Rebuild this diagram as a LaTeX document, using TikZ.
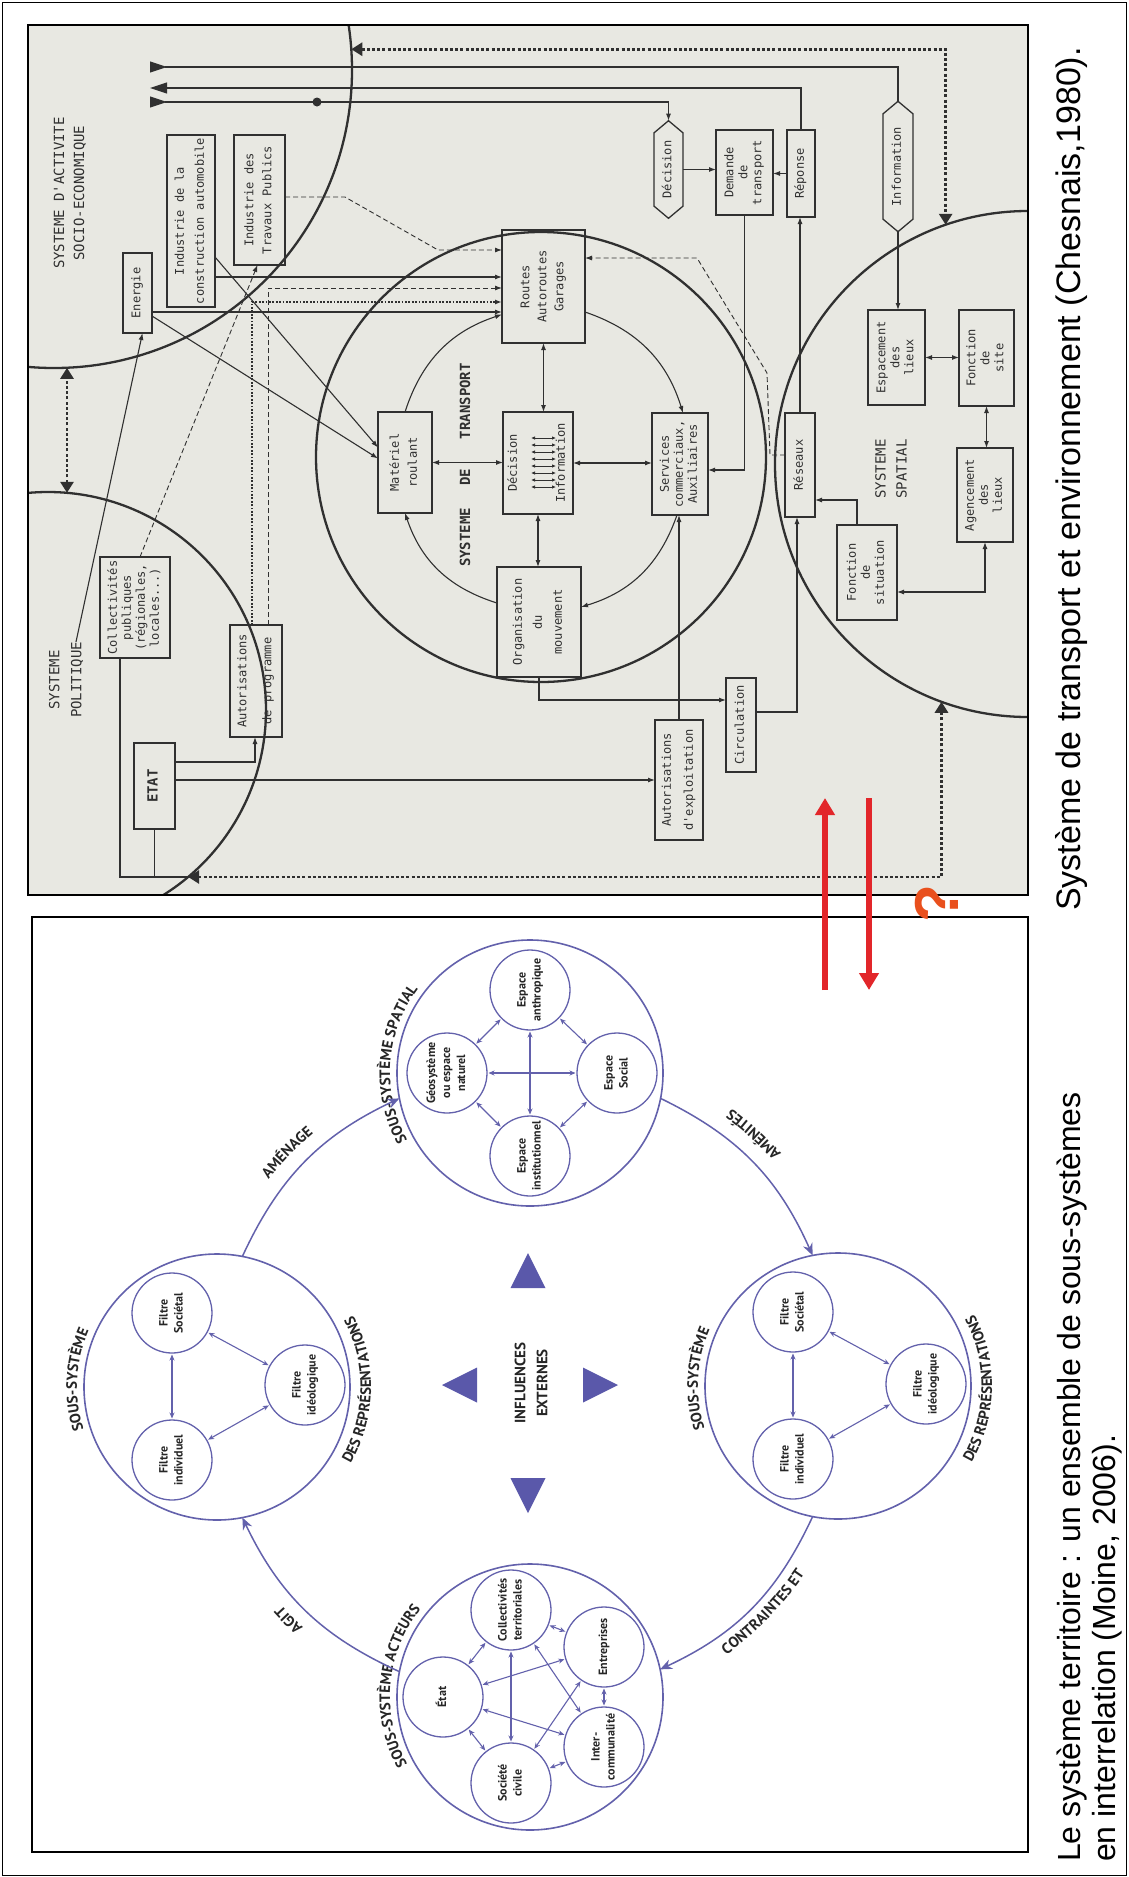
\documentclass[tikz,border=0pt]{standalone}
\usepackage{fontspec}
\setmainfont{Liberation Sans}
\newfontfamily\typefont{DejaVu Sans Mono}
\newfontfamily\moinefont{PT Sans}
\usepackage{graphicx}
\usetikzlibrary{arrows.meta,positioning,calc,decorations.text,shapes.symbols}
\definecolor{paper}{HTML}{E8E8E2}
\definecolor{ink}{HTML}{303030}
\definecolor{moineline}{HTML}{6361AC}
\definecolor{moinefill}{HTML}{5A58AA}
\definecolor{moineink}{HTML}{262626}
\definecolor{alertred}{HTML}{E2262A}
\definecolor{qorange}{HTML}{E9501D}
\newcommand{\up}[1]{\rotatebox{90}{\begin{tabular}{@{}c@{}}#1\end{tabular}}}
\newcommand{\moinecaps}{\moinefont\bfseries\fontsize{15}{18}\selectfont\color{moineink}}

\begin{document}
\begin{tikzpicture}[x=1pt,y=1pt,
 cbox/.style={draw=ink,line width=1.3pt,inner sep=0pt,outer sep=0pt,text=ink,font=\typefont\fontsize{12}{14}\selectfont},
 chex/.style={cbox,signal,signal to=north and south,signal pointer angle=100},
 clabel/.style={text=ink,inner sep=0pt,font=\typefont\fontsize{14}{20}\selectfont},
 bigring/.style={draw=ink,line width=2.3pt,circle,inner sep=0pt,outer sep=0pt},
 fl/.style={draw=ink,line width=1.1pt},
 dashlink/.style={fl,line width=0.9pt,dash pattern=on 5pt off 3pt},
 dotlink/.style={fl,line width=1.5pt,dash pattern=on 1.8pt off 1.6pt},
 dotflow/.style={draw=ink,line width=2.8pt,dash pattern=on 3pt off 2.2pt,{Triangle[length=11pt,width=13pt]}-{Triangle[length=11pt,width=13pt]}},
 subsys/.style={circle,draw=moineline,line width=1.6pt,minimum size=266pt,inner sep=0pt,outer sep=0pt},
 innerc/.style={circle,draw=moineline,line width=1.3pt,minimum size=80pt,inner sep=0pt,outer sep=1.5pt,text=moineink,font=\moinefont\bfseries\fontsize{12}{15}\selectfont},
 mlink/.style={draw=moineline,line width=1.1pt,{Stealth[length=6pt,width=5pt]}-{Stealth[length=6pt,width=5pt]}},
 ringlink/.style={draw=moineline,line width=1.5pt,-{Stealth[length=12pt,width=10pt]}},
 redlink/.style={draw=alertred,line width=5.5pt,-{Triangle[length=17pt,width=19pt]}},
 >={Latex[length=7pt,width=5pt]}]
\useasboundingbox (0,0) rectangle (1128,-1877);
\draw[line width=1pt] (2,-2) rectangle (1126,-1875);
\fill[paper] (28,-25) rectangle (1028,-895);
\begin{scope}
\clip (28,-25) rectangle (1028,-895);
\node[bigring,minimum size=596pt] (socio) at (54,-70) {};
\node[bigring,minimum size=436pt] (politique) at (48,-710) {};
\node[bigring,minimum size=450pt] (transport) at (541,-457) {};
\node[bigring,minimum size=506pt] (spatial) at (1028,-464) {};
\end{scope}
\draw[line width=1.5pt] (28,-25) rectangle (1028,-895);

\node[clabel] (socioname) at (70,-193) {\up{SYSTEME D'ACTIVITE\\SOCIO-ECONOMIQUE}};
\node[clabel,font=\typefont\fontsize{14}{22}\selectfont] (polname) at (66,-680) {\up{SYSTEME\\POLITIQUE}};
\node[clabel,font=\typefont\bfseries\fontsize{14}{16}\selectfont] (transname) at (467,-465) {\up{SYSTEME\hspace{22pt}DE\hspace{30pt}TRANSPORT}};
\node[clabel,font=\typefont\fontsize{14}{21}\selectfont] (spatname) at (892,-469) {\up{SYSTEME\\SPATIAL}};

\node[cbox,minimum width=29pt,minimum height=80pt] (energie) at (137.5,-293) {\up{Energie}};
\node[cbox,minimum width=48pt,minimum height=172pt] (indauto) at (191,-221) {\up{Industrie de la\\[6pt]construction automobile}};
\node[cbox,minimum width=51pt,minimum height=130pt] (indtp) at (259.5,-200) {\up{Industrie des\\[4pt]Travaux Publics}};
\node[cbox,minimum width=83pt,minimum height=113pt] (routes) at (543.5,-286.5) {\up{Routes\\[3pt]Autoroutes\\[3pt]Garages}};
\node[cbox,minimum width=54pt,minimum height=101pt] (materiel) at (405,-462.5) {\up{Matériel\\[4pt]roulant}};
\node[cbox,minimum width=70pt,minimum height=102pt] (decinfo) at (538,-463) {\up{Décision\\[34pt]Information}};
\node[cbox,minimum width=56pt,minimum height=102pt] (services) at (680,-464) {\up{Services\\commerciaux,\\Auxiliaires}};
\node[cbox,minimum width=84pt,minimum height=110pt] (organisation) at (539,-622) {\up{Organisation\\[6pt]du\\[6pt]mouvement}};
\node[cbox,minimum width=70pt,minimum height=101pt] (collect) at (135,-607.5) {\up{Collectivités\\publiques\\(régionales,\\locales...)}};
\node[cbox,minimum width=52pt,minimum height=112pt] (autoprog) at (256,-681) {\up{Autorisations\\[11pt]de programme}};
\node[cbox,minimum width=41pt,minimum height=86pt,font=\typefont\bfseries\fontsize{14}{16}\selectfont] (etat) at (154.5,-786) {\up{ETAT}};
\node[cbox,minimum width=48pt,minimum height=120pt] (autoexpl) at (679,-780) {\up{Autorisations\\[8pt]d'exploitation}};
\node[cbox,minimum width=30pt,minimum height=94pt] (circulation) at (741,-725) {\up{Circulation}};
\node[chex,minimum width=29pt,minimum height=85pt] (decision) at (668.5,-169.5) {\up{Décision}};
\node[cbox,minimum width=57pt,minimum height=85pt] (demande) at (744.5,-172.5) {\up{Demande\\de\\transport}};
\node[cbox,minimum width=28pt,minimum height=87pt] (reponse) at (801,-173.5) {\up{Réponse}};
\node[chex,minimum width=30pt,minimum height=117pt] (information) at (898,-166.5) {\up{Information}};
\node[cbox,minimum width=30pt,minimum height=104pt] (reseaux) at (800,-465) {\up{Réseaux}};
\node[cbox,minimum width=57pt,minimum height=95pt] (espacement) at (896.5,-357.5) {\up{Espacement\\des\\lieux}};
\node[cbox,minimum width=55pt,minimum height=96pt] (fsite) at (986.5,-358) {\up{Fonction\\de\\site}};
\node[cbox,minimum width=56pt,minimum height=94pt] (agencement) at (985,-495) {\up{Agencement\\des\\lieux}};
\node[cbox,minimum width=60pt,minimum height=95pt] (fsituation) at (867,-572.5) {\up{Fonction\\de\\situation}};

\foreach \k in {0,...,7}
 \draw[fl,line width=0.8pt,{Latex[length=4pt,width=3.5pt]}-{Latex[length=4pt,width=3.5pt]}] ([shift={(-7,25-7*\k)}]decinfo.center) -- ++(25,0);

\coordinate (socA) at (150,-67);
\coordinate (socB) at (150,-88);
\coordinate (socC) at (150,-102);
\draw[fl,-{Triangle[length=17pt,width=11pt,reversed]}] (information.north) |- (socA);
\draw[fl,-{Triangle[length=17pt,width=11pt]}] (reponse.north) |- (socB);
\draw[fl,{Triangle[length=17pt,width=11pt,reversed]}->] (socC) -| (decision.north);
\fill[ink] (317,-102) circle (4.5);
\draw[dotflow] (socio.4) -| (spatial.109);
\draw[dotflow] (politique.85) -- (politique.85 |- socio.-88);
\draw[dotflow] (politique.-50) -| (spatial.-110);
\draw[fl] ([xshift=-15pt]collect.south) |- (politique.-50);
\draw[fl] (etat.south) -- (etat.south |- politique.-50);
\draw[fl,->] ([xshift=10pt]polname.north) -- ([xshift=5pt]energie.south);
\draw[fl,->] ([yshift=-23pt]energie.east) -- ([yshift=4pt]materiel.west);
\draw[fl,->] ([yshift=-19pt]energie.east) -- ([yshift=-25.5pt]routes.west);
\draw[fl,->] ([yshift=-36pt]indauto.east) -- ([yshift=15pt]materiel.west);
\draw[fl,->] ([yshift=-56pt]indauto.east) -- ([yshift=9.5pt]routes.west);
\draw[dashlink,->] ([yshift=3pt]indtp.east) -- ++(60,0) -- ++(93,-53) -- ([yshift=36.5pt]routes.west);
\draw[dashlink,->] ([xshift=5pt]collect.north) -- ([xshift=-2pt]indtp.south);
\draw[dotlink,->] ([xshift=-4pt]autoprog.north) |- ([yshift=-15.5pt]routes.west);
\draw[dashlink,->] ([xshift=12pt]autoprog.north) |- ([yshift=-1.5pt]routes.west);
\draw[fl,->] ([yshift=24pt]etat.east) -| ([xshift=-1pt]autoprog.south);
\draw[fl,->] (etat.east |- autoexpl.west) -- (autoexpl.west);
\draw[fl,->] (autoexpl.north) -- (autoexpl.north |- services.south);
\draw[fl,->] (organisation.south) |- ([yshift=25pt]circulation.west);
\draw[fl,->] ([yshift=13pt]circulation.east) -| ([xshift=-3pt]reseaux.south);
\draw[fl,->] (reseaux.north) -- (reseaux.north |- reponse.south);
\draw[fl,->] (demande.south) |- ([yshift=-6pt]services.east);
\draw[fl,->] (decision.east) -- (decision.east -| demande.west);
\draw[fl,->] (reponse.west) -- (reponse.west -| demande.east);
\draw[fl,->] (information.south) -- (information.south |- espacement.north);
\draw[fl,<->] (espacement.east) -- (espacement.east -| fsite.west);
\draw[fl,<->] (fsite.south) -- (fsite.south |- agencement.north);
\draw[fl,<->] (agencement.south) |- ([yshift=-19.5pt]fsituation.east);
\draw[fl,->] ([xshift=-10pt]fsituation.north) |- ([yshift=-35pt]reseaux.east);
\draw[fl,<->] (materiel.east) -- (materiel.east -| decinfo.west);
\draw[fl,<->] (routes.south) -- (routes.south |- decinfo.north);
\draw[fl,<->] (decinfo.east) -- (decinfo.east -| services.west);
\draw[fl,<->] (decinfo.south) -- (decinfo.south |- organisation.north);
\draw[fl,->] ([yshift=19pt]organisation.west) to[bend left=27] (materiel.south);
\draw[fl,->] (materiel.north) to[bend left=27] ([yshift=-28pt]routes.west);
\draw[fl,->] ([yshift=-25.5pt]routes.east) to[bend left=27] ([xshift=3pt]services.north);
\draw[fl,->] ([xshift=-3pt]services.south) to[bend left=27] ([yshift=15pt]organisation.east);
\draw[dashlink,->] ([yshift=10pt]reseaux.west) -- ++(-15,0) -- ++(-3,82) -- ++(-70,115) -- ([yshift=28.5pt]routes.east);

\draw[line width=1.8pt,fill=white] (32,-917) rectangle (1028,-1852);
\begin{scope}[shift={(528,-1385)}]
\node[subsys] (spat) at (2,312) {};
\node[subsys] (rep2) at (310,-1) {};
\node[subsys] (act) at (2,-312) {};
\node[subsys] (rep1) at (-311,-2) {};
\node[innerc] (geo) at ([shift={(-83,0)}]spat.center) {\up{Géosystème\\ou espace\\naturel}};
\node[innerc] (anthro) at ([shift={(0,83)}]spat.center) {\up{Espace\\anthropique}};
\node[innerc] (social) at ([shift={(87,0)}]spat.center) {\up{Espace\\Social}};
\node[innerc] (inst) at ([shift={(0,-83)}]spat.center) {\up{Espace\\institutionnel}};
\foreach \a/\b in {geo/anthro,anthro/social,social/inst,inst/geo,geo/social,anthro/inst}
 \draw[mlink] (\a) -- (\b);
\node[innerc] (acteta) at ([shift={(-87,0)}]act.center) {\up{État}};
\node[innerc] (actcoll) at ([shift={(-19,87)}]act.center) {\up{Collectivités\\territoriales}};
\node[innerc] (actsoc) at ([shift={(-19,-86)}]act.center) {\up{Société\\civile}};
\node[innerc] (actent) at ([shift={(74,50)}]act.center) {\up{Entreprises}};
\node[innerc] (actinter) at ([shift={(74,-50)}]act.center) {\up{Inter-\\communalité}};
\foreach \a/\b in {acteta/actcoll,acteta/actsoc,acteta/actent,acteta/actinter,actcoll/actsoc,actcoll/actent,actcoll/actinter,actsoc/actent,actsoc/actinter,actent/actinter}
 \draw[mlink] (\a) -- (\b);
\foreach \r in {rep1,rep2} {
 \node[innerc] (\r-soc) at ([shift={(-45,74)}]\r.center) {\up{Filtre\\Sociétal}};
 \node[innerc] (\r-ind) at ([shift={(-45,-73)}]\r.center) {\up{Filtre\\individuel}};
 \node[innerc] (\r-ideo) at ([shift={(88,2)}]\r.center) {\up{Filtre\\idéologique}};
 \draw[mlink] (\r-soc) -- (\r-ind);
 \draw[mlink] (\r-soc) -- (\r-ideo);
 \draw[mlink] (\r-ind) -- (\r-ideo);
 \path[decorate,decoration={text along path,text={|\moinecaps|SOUS-SYSTÈME},text align=center}] ([shift={(237:140)}]\r.center) arc[start angle=237,end angle=117,radius=140];
 \path[decorate,decoration={text along path,text={|\moinecaps|DES REPRÉSENTATIONS},text align=center}] ([shift={(-65:154)}]\r.center) arc[start angle=-65,end angle=63,radius=154];
}
\path[decorate,decoration={text along path,text={|\moinecaps|SOUS-SYSTÈME SPATIAL},text align=center}] ([shift={(240:140)}]spat.center) arc[start angle=240,end angle=112,radius=140];
\path[decorate,decoration={text along path,text={|\moinecaps|SOUS-SYSTÈME ACTEURS},text align=center}] ([shift={(239:140)}]act.center) arc[start angle=239,end angle=111,radius=140];
\foreach \a/\d in {180/86,90/132,0/90,270/128}
 \fill[moinefill,rotate=\a] (\d,0) -- (\d-35,17.5) -- (\d-35,-17.5) -- cycle;
\node[text=moineink,inner sep=0pt,font=\moinefont\bfseries\fontsize{15}{22}\selectfont] (influences) at (4,2) {\up{INFLUENCES\\EXTERNES}};
\draw[ringlink] (rep1.79) to[bend left=20] (spat.191);
\draw[ringlink] (spat.-11) to[bend left=20] (rep2.101);
\draw[ringlink] (rep2.-101) to[bend left=20] (act.12);
\draw[ringlink] (act.169) to[bend left=20] (rep1.-79);
\path[decorate,decoration={text along path,text={|\moinecaps|AMÉNAGE},text align=center}] (160:331) arc[start angle=160,end angle=112,radius=331];
\path[decorate,decoration={text along path,text={|\moinecaps|AMÉNITÉS},text align=center}] (20:343) arc[start angle=20,end angle=76,radius=343];
\path[decorate,decoration={text along path,text={|\moinecaps|CONTRAINTES ET},text align=center}] (-74:335) arc[start angle=-74,end angle=-14,radius=335];
\path[decorate,decoration={text along path,text={|\moinecaps|AGIT},text align=center}] (244.5:331) arc[start angle=244.5,end angle=204.5,radius=331];
\end{scope}

\node[rotate=90,anchor=base west,inner sep=0pt,font=\fontsize{34}{40}\selectfont] (capchesnais) at (1080,-911) {Système de transport et environnement (Chesnais,1980).};
\node[rotate=90,anchor=base west,inner sep=0pt,font=\fontsize{32}{38}\selectfont] (capmoine) at (1080,-1862) {Le système territoire : un ensemble de sous-systèmes};
\node[rotate=90,anchor=base west,inner sep=0pt,font=\fontsize{32}{38}\selectfont] (capmoineb) at (1115,-1862) {en interrelation (Moine, 2006).};

\coordinate (upfoot) at (825,-990);
\coordinate (uptip) at (825,-798);
\coordinate (downtop) at (869,-798);
\coordinate (downtip) at (869,-990);
\draw[redlink] (upfoot) -- (uptip);
\draw[redlink] (downtop) -- (downtip);
\node[rotate=90,inner sep=0pt,text=qorange,font=\bfseries\fontsize{62}{62}\selectfont] (qmark) at (937,-904) {?};
\end{tikzpicture}
\end{document}
